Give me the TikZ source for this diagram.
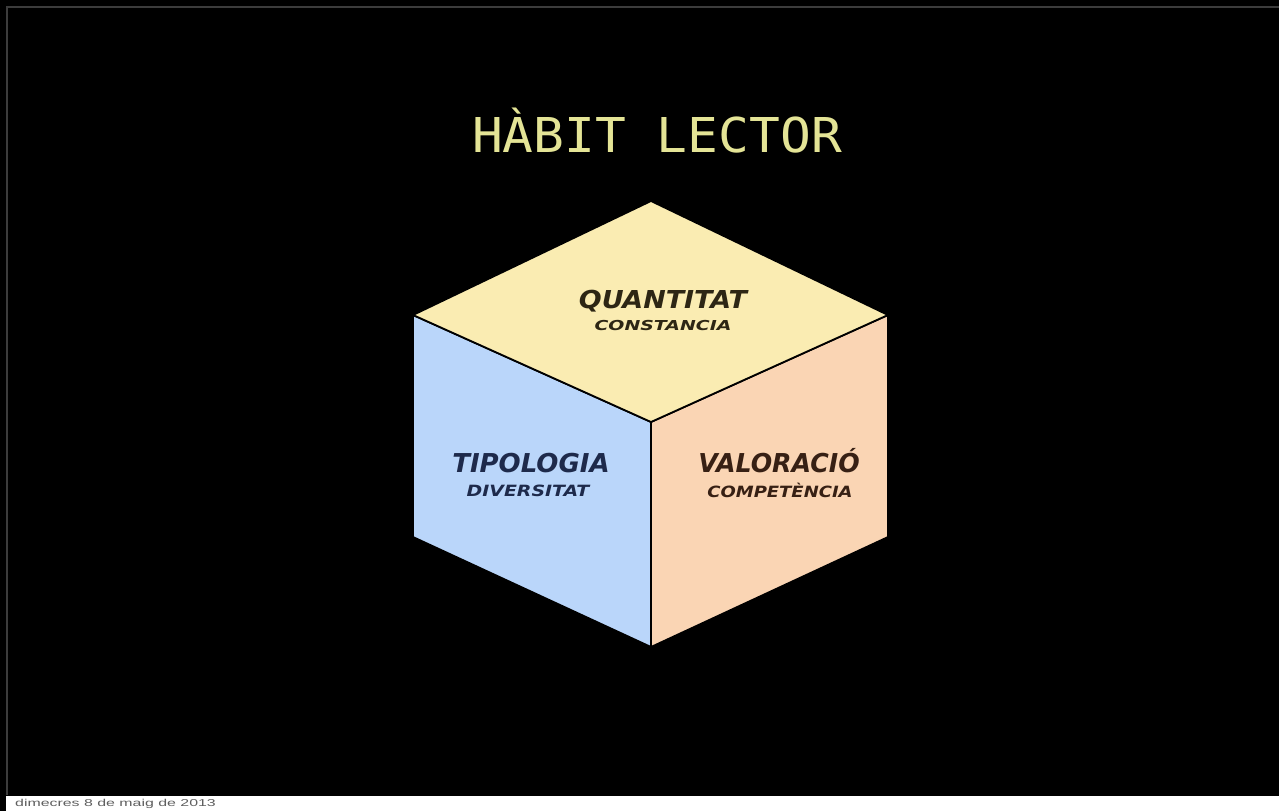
\documentclass[tikz,border=0pt]{standalone}
\usepackage{fontspec}
\usepackage{graphicx}
\newfontfamily\titlefont{DejaVu Sans Mono}
\newfontfamily\labfont{DejaVu Sans}
\newfontfamily\footfont{Liberation Sans}
\definecolor{topface}{RGB}{250,236,178}
\definecolor{leftface}{RGB}{186,214,250}
\definecolor{rightface}{RGB}{250,213,180}
\definecolor{titlecol}{RGB}{228,228,150}
\definecolor{toptext}{RGB}{45,38,20}
\definecolor{lefttext}{RGB}{30,42,75}
\definecolor{righttext}{RGB}{55,32,20}
\definecolor{framegrey}{RGB}{60,60,60}
\definecolor{footgrey}{RGB}{95,95,95}
\tikzset{
  face/.style={draw=black, line width=1.8pt, line join=round},
  lab/.style={anchor=base, inner sep=0pt},
}
\begin{document}
\begin{tikzpicture}[x=1pt,y=-1pt]
\useasboundingbox (0,0) rectangle (1279,811);
\fill[black] (0,0) rectangle (1279,811);
\fill[white] (6,796) rectangle (1279,811);
\draw[framegrey, line width=1.5pt] (7,795) -- (7,7) -- (1279,7);
% cube corners
\coordinate (T) at (651,201);
\coordinate (LT) at (413,315);
\coordinate (RT) at (888,315);
\coordinate (C) at (651,422);
\coordinate (LB) at (413,537);
\coordinate (RB) at (888,537);
\coordinate (B) at (651,647);
\filldraw[face, fill=leftface] (LT) -- (C) -- (B) -- (LB) -- cycle;
\filldraw[face, fill=rightface] (RT) -- (C) -- (B) -- (RB) -- cycle;
\filldraw[face, fill=topface] (T) -- (RT) -- (C) -- (LT) -- cycle;
% title
\node[lab, text=titlecol] (title) at (657,152) {\scalebox{1.066}[1]{\fontsize{48}{48}\titlefont HÀBIT LECTOR}};
% top face
\node[lab, text=toptext] (quant) at (663,308) {\scalebox{1.09}[1]{\fontsize{24.7}{25}\labfont\bfseries\itshape QUANTITAT}};
\node[lab, text=toptext] (const) at (663,330) {\scalebox{1.38}[1]{\fontsize{13.7}{14}\labfont\bfseries\itshape CONSTANCIA}};
% left face
\node[lab, text=lefttext] (tipo) at (531,472) {\scalebox{1.0}[1]{\fontsize{26}{26}\labfont\bfseries\itshape TIPOLOGIA}};
\node[lab, text=lefttext] (diver) at (528,496) {\scalebox{1.22}[1]{\fontsize{15.5}{16}\labfont\bfseries\itshape DIVERSITAT}};
% right face
\node[lab, text=righttext] (valor) at (779,472) {\scalebox{0.97}[1]{\fontsize{26}{26}\labfont\bfseries\itshape VALORACIÓ}};
\node[lab, text=righttext] (compet) at (780,497) {\scalebox{1.16}[1]{\fontsize{15.5}{16}\labfont\bfseries\itshape COMPETÈNCIA}};
% footer
\node[anchor=base west, inner sep=0pt, text=footgrey] (foot) at (15,806.5) {\scalebox{1.59}[1]{\fontsize{10}{10}\footfont dimecres 8 de maig de 2013}};
\end{tikzpicture}
\end{document}
